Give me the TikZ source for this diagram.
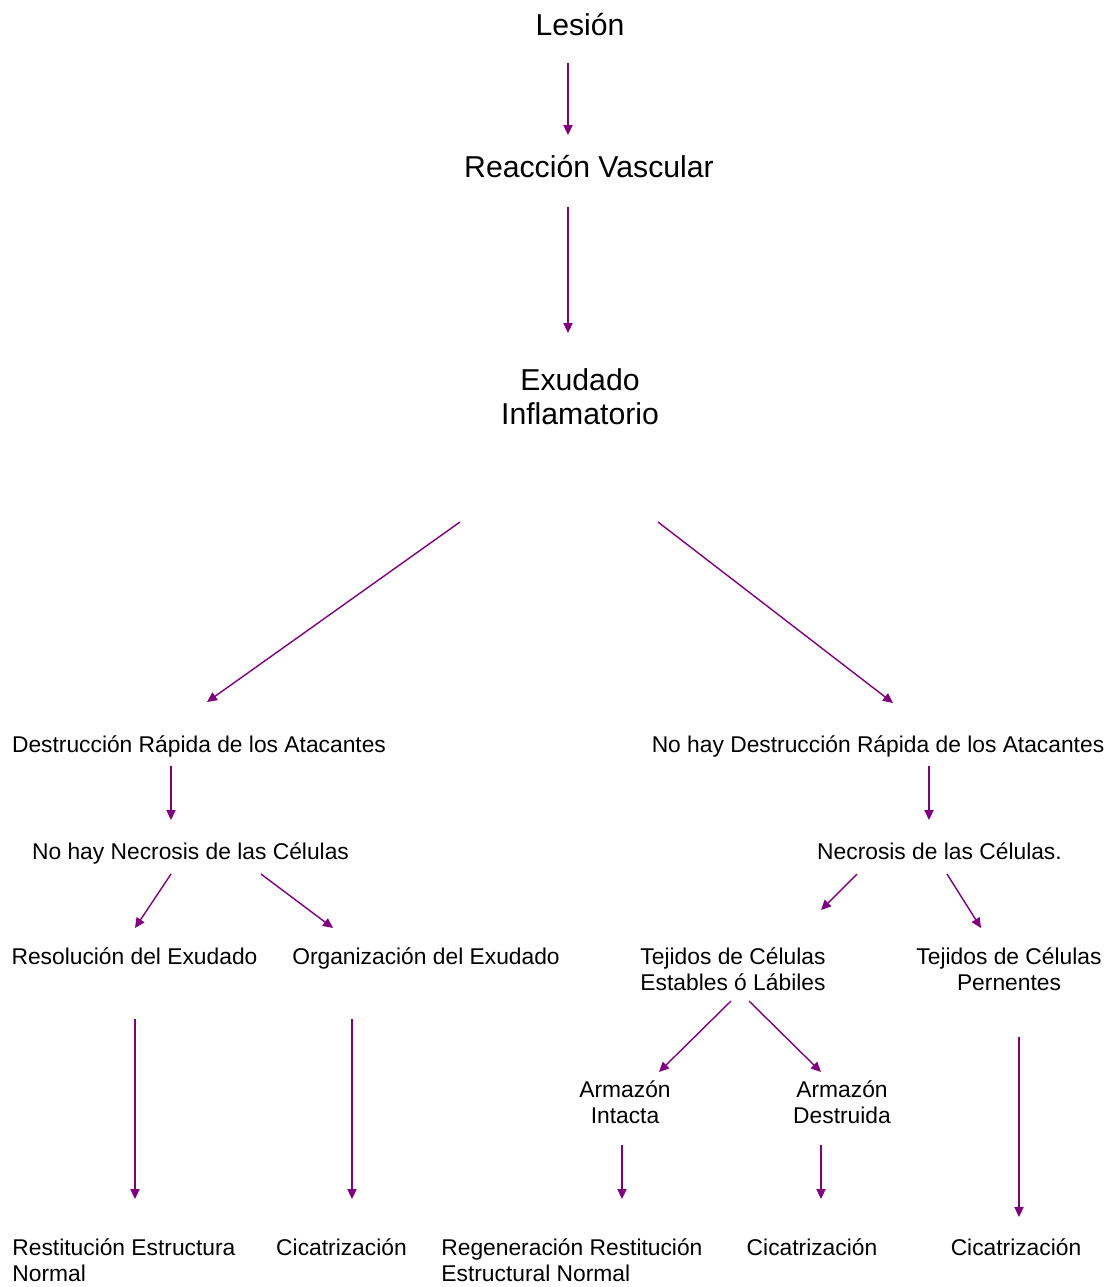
\documentclass[tikz,border=0pt]{standalone}
\usepackage{fontspec}
\setmainfont{Liberation Sans}
\usepackage{xcolor}
\definecolor{flechacolor}{RGB}{128,0,128}
\usepackage{tikz}
\usetikzlibrary{arrows.meta, positioning}

\tikzset{
  grande/.style={font=\fontsize{15.1}{17}\selectfont, align=center, inner sep=0pt},
  chico/.style={font=\fontsize{11.4}{13}\selectfont, align=center, inner sep=0pt},
  flecha/.style={draw=flechacolor, line width=0.7pt, -{Triangle[length=5pt,width=4.6pt]}}
}

\begin{document}
\begin{tikzpicture}[x=0.5pt, y=-0.5pt]
  \useasboundingbox (0,0) rectangle (1112,1287);
  % Tronco
  \node[grande] (lesion) at (580,25) {Lesión};
  \node[grande] (reaccion) at (589,167) {Reacción Vascular};
  \node[grande] (exudado) at (580,397) {Exudado\\Inflamatorio};
  % Rama izquierda
  \node[chico] (destruc) at (199,746) {Destrucción Rápida de los Atacantes};
  \node[chico] (nonecro) at (190.5,853) {No hay Necrosis de las Células};
  \node[chico] (resol) at (134.5,956) {Resolución del Exudado};
  \node[chico] (organiz) at (426,958) {Organización del Exudado};
  \node[chico, align=left, anchor=west] (restit) at (12,1260) {Restitución Estructura\\Normal};
  \node[chico] (cicatA) at (341.5,1247) {Cicatrización};
  % Rama derecha
  \node[chico] (nodestruc) at (878,746) {No hay Destrucción Rápida de los Atacantes};
  \node[chico] (necro) at (939.5,851) {Necrosis de las Células.};
  \node[chico] (estables) at (733,969) {Tejidos de Células\\Estables ó Lábiles};
  \node[chico] (pernentes) at (1009,969) {Tejidos de Células\\Pernentes};
  \node[chico] (intacta) at (625,1102) {Armazón\\Intacta};
  \node[chico] (destruida) at (842,1102) {Armazón\\Destruida};
  \node[chico, align=left, anchor=west] (regen) at (441,1260) {Regeneración Restitución\\Estructural Normal};
  \node[chico] (cicatB) at (812,1247) {Cicatrización};
  \node[chico] (cicatC) at (1016,1247) {Cicatrización};
  % Flechas
  \draw[flecha] ([shift={(-12,38)}]lesion.center) -- ([shift={(-21,-32)}]reaccion.center);
  \draw[flecha] ([shift={(-21,40)}]reaccion.center) -- ([shift={(-12,-64)}]exudado.center);
  \draw[flecha] ([shift={(-120,125)}]exudado.center) -- ([shift={(8,-44)}]destruc.center);
  \draw[flecha] ([shift={(78,125)}]exudado.center) -- ([shift={(15,-43)}]nodestruc.center);
  \draw[flecha] ([shift={(-28,20)}]destruc.center) -- ([shift={(-19.5,-33)}]nonecro.center);
  \draw[flecha] ([shift={(51,20)}]nodestruc.center) -- ([shift={(-10.5,-31)}]necro.center);
  \draw[flecha] ([shift={(-19.5,21)}]nonecro.center) -- ([shift={(0.5,-28)}]resol.center);
  \draw[flecha] ([shift={(70.5,21)}]nonecro.center) -- ([shift={(-93,-30)}]organiz.center);
  \draw[flecha] ([shift={(-82.5,23)}]necro.center) -- ([shift={(88,-59)}]estables.center);
  \draw[flecha] ([shift={(7.5,23)}]necro.center) -- ([shift={(-28,-41)}]pernentes.center);
  \draw[flecha] ([shift={(-2,32)}]estables.center) -- ([shift={(34,-30)}]intacta.center);
  \draw[flecha] ([shift={(16,32)}]estables.center) -- ([shift={(-21,-30)}]destruida.center);
  \draw[flecha] ([shift={(0.5,63)}]resol.center) -- ([shift={(123,-61)}]restit.west);
  \draw[flecha] ([shift={(-74,61)}]organiz.center) -- ([shift={(10.5,-48)}]cicatA.center);
  \draw[flecha] ([shift={(-3,43)}]intacta.center) -- ([shift={(181,-61)}]regen.west);
  \draw[flecha] ([shift={(-21,43)}]destruida.center) -- ([shift={(9,-48)}]cicatB.center);
  \draw[flecha] ([shift={(10,68)}]pernentes.center) -- ([shift={(3,-30)}]cicatC.center);
\end{tikzpicture}
\end{document}
